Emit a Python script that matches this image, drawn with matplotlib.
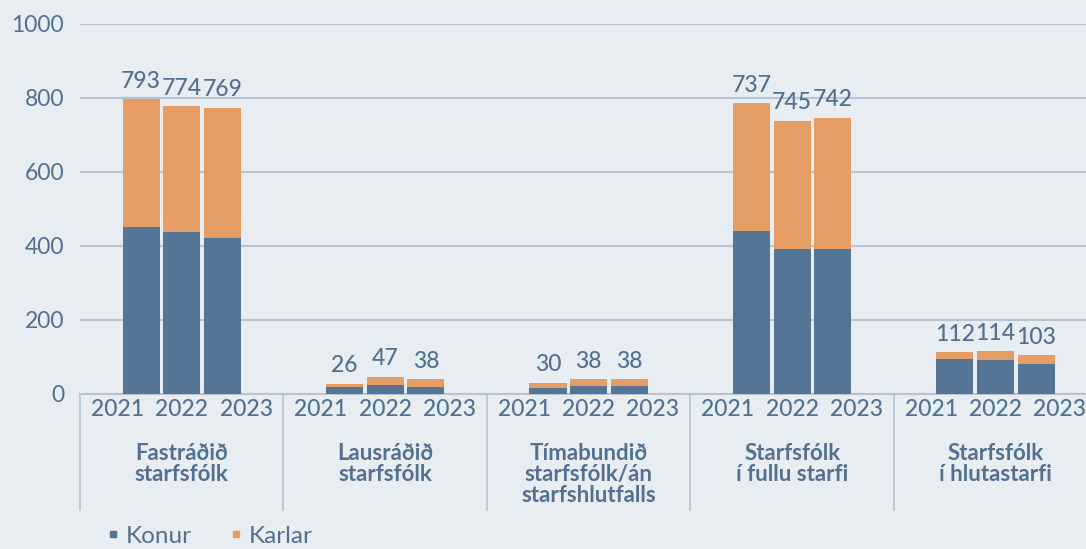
import numpy as np
from matplotlib import pyplot as plt
from matplotlib.lines import Line2D
import matplotlib as mpl

mpl.rcParams['font.family'] = ['Lato', 'DejaVu Sans']

categories = ['Fastráðið\nstarfsfólk', 'Lausráðið\nstarfsfólk',
              'Tímabundið\nstarfsfólk/án\nstarfshlutfalls',
              'Starfsfólk\ní fullu starfi', 'Starfsfólk\ní hlutastarfi']
years = ['2021', '2022', '2023']
konur = [[452, 438, 422], [19, 24, 19], [16, 22, 22], [441, 392, 392], [94, 92, 81]]
karlar = [[345, 340, 351], [8, 22, 21], [14, 18, 18], [345, 346, 354], [19, 24, 24]]
totals = [[793, 774, 769], [26, 47, 38], [30, 38, 38], [737, 745, 742], [112, 114, 103]]

bg = '#e8edf2'
c_konur = '#557597'
c_karlar = '#e59c65'
txt = '#52708f'
grid_c = '#b7c4d4'

fig = plt.figure(figsize=(10.86, 5.49), dpi=100, facecolor=bg)
ax = fig.add_axes([80/1086, 155/549, 1.0 - 80/1086, 370/549])
ax.set_facecolor(bg)

for i, cat in enumerate(categories):
    c = 5*i + 2.5
    for k in range(3):
        x = c + (k - 1)
        ax.bar(x, konur[i][k], width=0.91, color=c_konur, zorder=3)
        ax.bar(x, karlar[i][k], width=0.91, bottom=konur[i][k], color=c_karlar, zorder=3)
        ax.annotate(str(totals[i][k]), xy=(x, konur[i][k] + karlar[i][k]),
                    xytext=(0, 13), textcoords='offset points',
                    ha='center', va='center', fontsize=16.5, color=txt, fontweight='medium')
        ax.annotate(years[k], xy=(c + (k - 1)*1.58, 0), xycoords=('data', 'axes fraction'),
                    xytext=(0, -11.5), textcoords='offset points',
                    ha='center', va='center', fontsize=16.5, color=txt, fontweight='medium')
    ax.annotate(cat, xy=(c, 0), xycoords=('data', 'axes fraction'),
                xytext=(0, -35), textcoords='offset points',
                ha='center', va='top', fontsize=16, fontweight='bold',
                color=txt, linespacing=1.02)

for i in range(6):
    ax.plot([5*i, 5*i], [0, -0.313], transform=ax.get_xaxis_transform(),
            color=grid_c, lw=1.2, clip_on=False, zorder=2)

ax.set_xlim(0, 24.72)
ax.set_ylim(0, 1000)
ax.set_yticks(np.arange(0, 1001, 200))
ax.yaxis.grid(True, color=grid_c, lw=1.5, zorder=0)
ax.set_xticks([])
ax.tick_params(axis='y', length=0, pad=11.5, labelsize=16.5, labelcolor=txt)
for s in ['top', 'right', 'left']:
    ax.spines[s].set_visible(False)
ax.spines['bottom'].set_color(grid_c)
ax.spines['bottom'].set_linewidth(1.5)

handles = [Line2D([], [], marker='s', ls='', color=c_konur, markersize=5),
           Line2D([], [], marker='s', ls='', color=c_karlar, markersize=5)]
fig.legend(handles, ['Konur', 'Karlar'], loc='lower left', bbox_to_anchor=(0.073, -0.036),
           ncol=2, frameon=False, fontsize=17.5, labelcolor=txt,
           handletextpad=0.0, columnspacing=1.35, handlelength=1.0)

plt.savefig('out.png', dpi=100, facecolor=bg)
